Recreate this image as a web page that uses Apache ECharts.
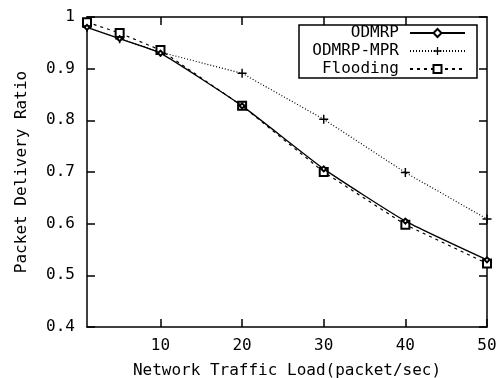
<!DOCTYPE html>
<html><head><meta charset="utf-8">
<script src="https://cdn.jsdelivr.net/npm/echarts@6/dist/echarts.min.js"></script>
<style>html,body{margin:0;padding:0;background:#fff}#c{width:501px;height:378px}</style>
</head><body><div id="c"></div>
<script>
const loads = [1, 5, 10, 20, 30, 40, 50];
const odmrp = [0.98, 0.958, 0.93, 0.828, 0.706, 0.605, 0.53];
const odmrpMpr = [0.98, 0.958, 0.932, 0.891, 0.802, 0.699, 0.609];
const flooding = [0.99, 0.969, 0.936, 0.828, 0.70, 0.598, 0.523];
const xTicks = [10, 20, 30, 40, 50];
const seriesNames = ['ODMRP', 'ODMRP-MPR', 'Flooding'];

const FONT = 'DejaVu Sans Mono';
const FS = 16;
const pair = arr => loads.map((x, i) => [x, arr[i]]);
const plus = 'path://M4.2,0h1.6v10h-1.6zM0,4.2h10v1.6h-10z';
const chart = echarts.init(document.getElementById('c'), null, {renderer: 'canvas'});
const axisLine = {show: true, lineStyle: {color: '#000', width: 1.5}};
const tick = {color: '#000', width: 1.5};
chart.setOption({
  animation: false,
  backgroundColor: '#fff',
  grid: {left: 87, top: 17, right: 14, bottom: 51, containLabel: false, outerBoundsMode: 'none'},
  legend: {
    orient: 'vertical', left: 299, top: 25, align: 'right',
    data: seriesNames,
    backgroundColor: '#fff', borderColor: '#000', borderWidth: 1.5, borderRadius: 0,
    padding: [0, 11, 1, 4], itemGap: 2, itemWidth: 55, itemHeight: 10,
    textStyle: {fontFamily: FONT, fontSize: FS, lineHeight: 14, color: '#000', width: 96, align: 'right', padding: [0, 6, 0, 0]}
  },
  xAxis: [{
    type: 'value', min: 1, max: 50, position: 'bottom',
    name: 'Network Traffic Load(packet/sec)', nameLocation: 'middle', nameGap: 36,
    nameTextStyle: {fontFamily: FONT, fontSize: FS, color: '#000'},
    axisLine: axisLine, splitLine: {show: false},
    axisTick: {show: true, inside: true, length: 8, lineStyle: tick, customValues: xTicks},
    axisLabel: {fontFamily: FONT, fontSize: FS, color: '#000', margin: 11, customValues: xTicks}
  }, {
    type: 'value', min: 1, max: 50, position: 'top',
    axisLine: axisLine, splitLine: {show: false},
    axisTick: {show: true, inside: true, length: 8, lineStyle: tick, customValues: [10, 20, 30, 40]},
    axisLabel: {show: false}
  }],
  yAxis: [{
    type: 'value', min: 0.4, max: 1, interval: 0.1, position: 'left',
    name: 'Packet Delivery Ratio', nameLocation: 'middle', nameGap: 57, nameRotate: 90,
    nameTextStyle: {fontFamily: FONT, fontSize: FS, color: '#000'},
    axisLine: axisLine, splitLine: {show: false},
    axisTick: {show: true, inside: true, length: 8, lineStyle: tick},
    axisLabel: {fontFamily: FONT, fontSize: FS, color: '#000', margin: 12,
      formatter: v => (Math.abs(v - 1) < 1e-9 ? '1' : v.toFixed(1))}
  }, {
    type: 'value', min: 0.4, max: 1, interval: 0.1, position: 'right',
    axisLine: axisLine, splitLine: {show: false},
    axisTick: {show: true, inside: true, length: 8, lineStyle: tick},
    axisLabel: {show: false}
  }],
  series: [{
    name: seriesNames[0], type: 'line', data: pair(odmrp), smooth: 0.15,
    symbol: 'emptyDiamond', symbolSize: 5, z: 4,
    lineStyle: {color: '#000', width: 1.3, type: 'solid'},
    itemStyle: {color: '#000', borderColor: '#000', borderWidth: 1}
  }, {
    name: seriesNames[1], type: 'line', data: pair(odmrpMpr),
    symbol: plus, symbolSize: 9,
    lineStyle: {color: '#000', width: 1.2, type: [1, 2]},
    itemStyle: {color: '#000', borderWidth: 0}
  }, {
    name: seriesNames[2], type: 'line', data: pair(flooding),
    symbol: 'emptyRect', symbolSize: 8, z: 3,
    lineStyle: {color: '#000', width: 1.2, type: [3, 4]},
    itemStyle: {color: '#000', borderColor: '#000', borderWidth: 1.3}
  }]
});
</script></body></html>
